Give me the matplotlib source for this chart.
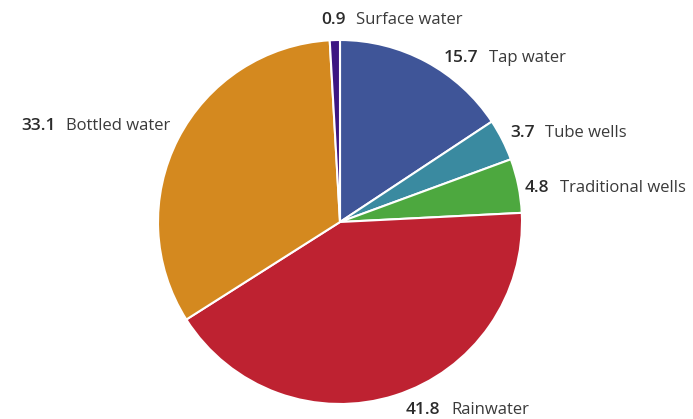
import numpy as np
import matplotlib
matplotlib.use('Agg')
import matplotlib.pyplot as plt

SOURCES = ['Tap water', 'Tube wells', 'Traditional wells', 'Rainwater', 'Bottled water', 'Surface water']
SHARES = [15.7, 3.7, 4.8, 41.8, 33.1, 0.9]
COLORS = ['#3F5598', '#3A8AA0', '#4DA83F', '#BE2231', '#D4891F', '#3C1682']

# per-label nudge from the wedge edge at mid angle (data units, radius = 1)
LABEL_NUDGE = [(0.317, 0.021), (0.206, 0.038), (0.201, -0.013),
               (0.279, -0.080), (-0.644, 0.070), (0.088, 0.110)]
GAP = 0.03

# pie centre and radius in pixels
CX, CY, R = 340, 222, 182
W, H = 693, 419

plt.rcParams['font.family'] = ['Open Sans', 'DejaVu Sans']

fig = plt.figure(figsize=(W / 100, H / 100), dpi=100)
ax = fig.add_axes([0, 0, 1, 1])

wedges, _ = ax.pie(SHARES, colors=COLORS, startangle=90, counterclock=False,
                   radius=1.0, wedgeprops={'edgecolor': 'white', 'linewidth': 1.5})

for w, src, val, (dx, dy) in zip(wedges, SOURCES, SHARES, LABEL_NUDGE):
    mid = np.deg2rad((w.theta1 + w.theta2) / 2)
    x = np.cos(mid) + dx
    y = np.sin(mid) + dy
    ax.text(x - GAP, y, f'{val}', ha='right', va='center', fontsize=12.5,
            fontweight='semibold', color='#2b2b2b')
    ax.text(x + GAP, y, src, ha='left', va='center', fontsize=12, color='#3a3a3a')

ax.set_xlim(-CX / R, (W - CX) / R)
ax.set_ylim(-(H - CY) / R, CY / R)
ax.set_aspect('auto')
ax.axis('off')

fig.savefig('out.png', dpi=100)
